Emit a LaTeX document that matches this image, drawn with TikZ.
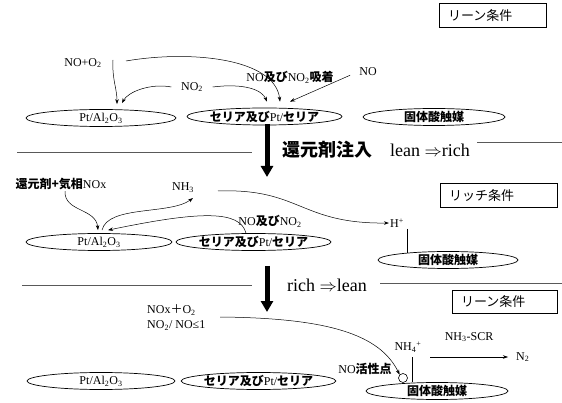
\documentclass[tikz,border=0pt]{standalone}
\usepackage{fontspec}
\setmainfont{Liberation Serif}
\newfontfamily\cjk{Noto Sans CJK JP}
\newcommand{\JB}[1]{{\cjk\bfseries #1}}
\newcommand{\JR}[1]{{\cjk #1}}
\usetikzlibrary{shapes.geometric,arrows.meta}
\begin{document}
\begin{tikzpicture}[x=1pt,y=-1pt,
  every node/.style={font=\fontsize{12pt}{14pt}\selectfont, inner sep=1pt},
  cat/.style={draw, ellipse, line width=0.7pt, minimum height=17pt, inner sep=0pt},
  cond/.style={draw, line width=0.8pt, inner xsep=9pt, inner ysep=0pt, minimum height=24pt, align=left, font=\fontsize{13pt}{15pt}\selectfont\cjk},
  arr/.style={-{Stealth[length=5pt,width=3.5pt]}, line width=0.5pt},
  sep/.style={line width=0.6pt, black!65},
  big/.style={line width=5pt, -{Triangle[length=11pt,width=12pt]}},
  head/.style={font=\fontsize{18pt}{20pt}\selectfont, inner sep=0pt}
]
\useasboundingbox (0,0) rectangle (562,403);

% ---------- row 1 (lean) ----------
\node[cond, text width=89pt] (B1) at (492.5,15.5) {リーン条件};
\node[cat, minimum width=150pt] (P1) at (101,118) {Pt/Al\textsubscript{2}O\textsubscript{3}};
\node[cat, minimum width=155pt] (S1) at (264.5,116.5) {\JB{セリア及び}Pt/\JB{セリア}};
\node[cat, minimum width=142pt] (K1) at (434,117) {\JB{固体酸触媒}};

\node (NOO2) at (83,63) {NO+O\textsubscript{2}};
\node[inner xsep=9.5pt] (NO2a) at (192,87) {NO\textsubscript{2}};
\node (ads) at (290,77) {NO\JB{及び}NO\textsubscript{2}\JB{吸着}};
\node (NOa) at (368,72) {NO};

\coordinate (c1) at (113,60);
\coordinate (c2) at (126,61);
\draw[arr] (c1) .. controls (112,80) and (117,88) .. ([xshift=16pt,yshift=5pt]P1.north);
\draw[arr] (c2) .. controls (190,50) and (275,58) .. ([xshift=15.5pt,yshift=6pt]S1.north);
\draw[arr] (NO2a.west) .. controls (150,83) and (128,92) .. ([xshift=21pt,yshift=6pt]P1.north);
\draw[arr] (NO2a.east) .. controls (245,83) and (262,90) .. ([xshift=2.5pt,yshift=6pt]S1.north);
\draw[arr] ([xshift=-8pt,yshift=2pt]NOa.south west) -- ([xshift=25.5pt,yshift=6pt]S1.north);

% ---------- transition 1 ----------
\coordinate (t1) at (267,124);
\coordinate (t1e) at (267,177);
\draw[big] (t1) -- (t1e);
\coordinate (l1a) at (17,152);
\coordinate (l1b) at (252,152);
\draw[sep] (l1a) -- (l1b);
\node[head, anchor=west] (inj) at (282,150) {\JB{還元剤注入}};
\node[head, anchor=west] (lr) at (390,150) {lean $\Rightarrow$rich};
\coordinate (l1c) at (477,142);
\coordinate (l1d) at (562,142);
\draw[sep] (l1c) -- (l1d);

% ---------- row 2 (rich) ----------
\node[cond, text width=99pt] (B2) at (498.5,195.5) {リッチ条件};
\node[cat, minimum width=146pt] (P2) at (99,242) {Pt/Al\textsubscript{2}O\textsubscript{3}};
\node[cat, minimum width=155pt] (S2) at (253.5,242) {\JB{セリア及び}Pt/\JB{セリア}};
\node[cat, minimum width=140pt] (K2) at (448,260) {\JB{固体酸触媒}};

\node (RED) at (61,184) {\JB{還元剤+気相}NOx};
\node (NH3) at (183,188) {NH\textsubscript{3}};
\node (NONO2) at (270,221) {NO\JB{及び}NO\textsubscript{2}};
\node (Hp) at (397,223) {H\textsuperscript{+}};

\draw[arr] ([xshift=4pt]RED.south) .. controls (64,212) and (96,208) .. ([xshift=-1pt,yshift=3pt]P2.north);
\draw[arr] ([xshift=3pt,yshift=3pt]P2.north) .. controls (108,205) and (170,215) .. ([xshift=10pt,yshift=-4pt]NH3.south);
\draw[arr] ([xshift=-7.5pt]S2.north) .. controls (240,210) and (200,211) .. ([xshift=9pt,yshift=3pt]P2.north);
\coordinate (c3) at (218,191);
\draw[arr] (c3) .. controls (300,188) and (300,224) .. (Hp.west);
\coordinate (h2) at (407,229);
\draw[line width=0.5pt] (h2) -- ++(0,24.2);

% ---------- transition 2 ----------
\coordinate (t2) at (267,266);
\coordinate (t2e) at (267,312);
\draw[big] (t2) -- (t2e);
\coordinate (l2a) at (22,285);
\coordinate (l2b) at (252,285);
\draw[sep] (l2a) -- (l2b);
\node[head, anchor=west] (rl) at (287,285) {rich $\Rightarrow$lean};
\coordinate (l2c) at (380,283);
\coordinate (l2d) at (562,283);
\draw[sep] (l2c) -- (l2d);

% ---------- row 3 (lean) ----------
\node[cond, text width=87pt, minimum height=23pt] (B3) at (504.5,301.5) {リーン条件};
\node[cat, minimum width=148pt] (P3) at (101,381) {Pt/Al\textsubscript{2}O\textsubscript{3}};
\node[cat, minimum width=153pt] (S3) at (258.5,381) {\JB{セリア及び}Pt/\JB{セリア}};
\node[cat, minimum width=142pt] (K3) at (437,391) {\JB{固体酸触媒}};

\node[anchor=west, align=left, font=\fontsize{12pt}{15pt}\selectfont] (NOX) at (146,317.5) {NOx\JR{＋}O\textsubscript{2}\\NO\textsubscript{2}/ NO≤1};
\node[circle, draw, fill=white, minimum size=9pt, inner sep=0pt, line width=0.6pt] (site) at (403,378) {};
\coordinate (c4) at (220,317);
\draw[arr] (c4) .. controls (330,318) and (380,335) .. (site.north west);
\node (NOact) at (365,369) {NO\JB{活性点}};
\node (NH4) at (408,347) {NH\textsubscript{4}\textsuperscript{+}};
\coordinate (v3) at (412,357);
\draw[line width=0.5pt] (v3) -- (v3 |- K3.north);
\node (SCR) at (469,337) {NH\textsubscript{3}-SCR};
\node[anchor=west, inner xsep=8pt] (N2) at (508,357) {N\textsubscript{2}};
\coordinate (c5) at (430,357);
\draw[arr] (c5) -- (N2.west);
\end{tikzpicture}
\end{document}
